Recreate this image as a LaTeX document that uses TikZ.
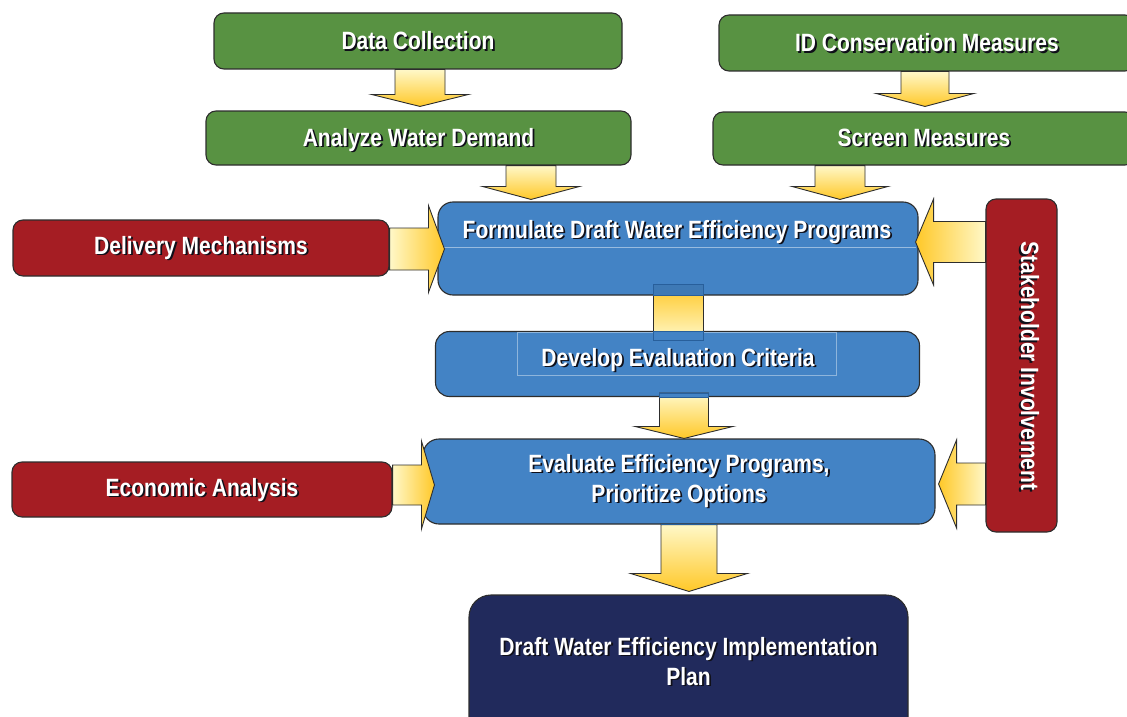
\documentclass[tikz,border=0pt]{standalone}
\usepackage{fontspec}
\newfontfamily\lblfont{Liberation Sans}[FakeStretch=0.84]
\usetikzlibrary{calc}
\definecolor{gr}{RGB}{88,146,66}
\definecolor{rd}{RGB}{165,29,35}
\definecolor{bl}{RGB}{67,131,197}
\definecolor{nv}{RGB}{33,42,92}
\definecolor{ol}{RGB}{45,45,45}
\definecolor{ydk}{RGB}{255,200,40}
\definecolor{ylt}{RGB}{255,248,200}
\definecolor{shc}{RGB}{15,15,25}
\definecolor{bdk}{RGB}{40,95,155}
\newcommand\sh[1]{\leavevmode\rlap{\raisebox{-1.8pt}{\hspace{1.8pt}\textcolor{shc}{#1}}}#1}
% vertical block arrow: #1 from, #2 tip, #3 x, #4 half shaft, #5 half head, #6 head length, #7 style
\newcommand\varr[7]{%
  \path[#7] let \p1=(#1), \p2=(#2) in
    ({#3pt-#4pt},\y1) -- ({#3pt+#4pt},\y1) -- ({#3pt+#4pt},{\y2+#6pt}) --
    ({#3pt+#5pt},{\y2+#6pt}) -- ({#3pt},\y2) -- ({#3pt-#5pt},{\y2+#6pt}) --
    ({#3pt-#4pt},{\y2+#6pt}) -- cycle;}
% horizontal block arrow: #1 from, #2 tip, #3 y (image), #4 half shaft, #5 half head, #6 signed head length, #7 style
\newcommand\harr[7]{%
  \path[#7] let \p1=(#1), \p2=(#2) in
    (\x1,{-#3pt+#4pt}) -- ({\x2-(#6pt)},{-#3pt+#4pt}) -- ({\x2-(#6pt)},{-#3pt+#5pt}) --
    (\x2,{-#3pt}) -- ({\x2-(#6pt)},{-#3pt-#5pt}) -- ({\x2-(#6pt)},{-#3pt-#4pt}) --
    (\x1,{-#3pt-#4pt}) -- cycle;}
\tikzset{
  x=1pt, y=-1pt,
  box/.style={draw=ol, line width=1.1pt, rounded corners=10pt, inner sep=0pt,
    text=white, font=\lblfont\bfseries\fontsize{25pt}{30pt}\selectfont},
  one/.style={text height=18pt, text depth=0pt},
  grn/.style={box, one, fill=gr},
  red/.style={box, one, fill=rd},
  blu/.style={box, fill=bl, rounded corners=15pt},
  nav/.style={box, fill=nv, rounded corners=22pt},
  txt/.style={inner sep=0pt, text=white, align=center,
    font=\lblfont\bfseries\fontsize{25pt}{30pt}\selectfont},
  arrbase/.style={draw=ol, line width=0.9pt, line join=miter},
  dn/.style={arrbase, top color=ylt, bottom color=ydk},
  rt/.style={arrbase, left color=ylt, right color=ydk},
  lf/.style={arrbase, left color=ydk, right color=ylt},
  up/.style={arrbase, top color=ydk, bottom color=ylt},
  ovl/.style={fill=bl!92!black, draw=bdk, line width=0.8pt},
}
\begin{document}
\begin{tikzpicture}
\useasboundingbox (0,0) rectangle (1127,717);
\clip (0,0) rectangle (1127,717);
% green boxes
\node[grn, minimum width=408, minimum height=56] (dc) at (418,41) {\sh{Data Collection}};
\node[grn, minimum width=416, minimum height=56] (idc) at (927,43) {\sh{ID Conservation Measures}};
\node[grn, text depth=2pt, minimum width=425, minimum height=54] (aw) at (418.5,138) {\sh{Analyze Water Demand}};
\node[grn, text depth=3pt, minimum width=422, minimum height=53] (sm) at (924,138.5) {\sh{Screen Measures}};
% red boxes
\node[red, text depth=6pt, minimum width=376, minimum height=56] (dm) at (201,248) {\sh{Delivery Mechanisms}};
\node[red, text depth=5pt, minimum width=380, minimum height=55] (ea) at (202,489.5) {\sh{Economic Analysis}};
\node[box, fill=rd, minimum width=71, minimum height=333] (sh) at (1021.5,365.5) {};
\node[txt, one, rotate=-90] (shT) at (1030,366) {\sh{Stakeholder Involvement}};
% blue boxes
\node[blu, minimum width=480, minimum height=93] (fd) at (678,248.5) {};
\draw[bl!55!white, line width=0.6pt] (440,247) -- (916,247);
\node[txt, one] (fdT) at (677,229) {\sh{Formulate Draft Water Efficiency Programs}};
\node[blu, rounded corners=14pt, minimum width=484, minimum height=65] (dv) at (677.5,364) {};
\draw[bl!60!white, line width=0.5pt] (517,332) rectangle (836,375);
\node[txt, one] (dvT) at (678,357) {\sh{Develop Evaluation Criteria}};
\node[blu, rounded corners=16pt, minimum width=512, minimum height=85, align=center] (ev) at (679,481.5)
  {\sh{Evaluate Efficiency Programs,}\\\sh{Prioritize Options}};
% navy box
\node[nav, minimum width=439, minimum height=146] (dw) at (688.5,668) {};
\node[txt] (dwT) at (688.5,662) {\sh{Draft Water Efficiency Implementation}\\\sh{Plan}};
% vertical arrows
\varr{dc.south}{$(aw.north)+(0,-4)$}{420}{25}{48.5}{12}{dn}
\varr{idc.south}{$(sm.north)+(0,-5)$}{925}{24}{49}{13}{dn}
\varr{aw.south}{$(fd.north)+(0,-2)$}{531}{25}{48.5}{13}{dn}
\varr{sm.south}{$(fd.north)+(0,-2)$}{840}{25}{48}{13}{dn}
\varr{$(dv.south)+(0,-4)$}{ev.north}{684}{24.5}{49}{12}{dn}
\varr{ev.south}{$(dw.north)+(0,-3)$}{689}{28}{58.5}{18}{dn}
% connecting block between formulate and develop
\path[up] let \p1=(fd.south), \p2=(dv.north) in (653pt,{\y1+11pt}) rectangle (703pt,{\y2-9pt});
\path[ovl] let \p1=(fd.south) in (653pt,{\y1+11pt}) rectangle (703pt,\y1);
\path[ovl, fill=bl] let \p2=(dv.north) in (653pt,\y2) rectangle (703pt,{\y2-9pt});
\path[ovl, fill=bl] let \p1=(dv.south) in (659.5pt,{\y1+4pt}) rectangle (708.5pt,\y1);
\draw[bdk, line width=1pt] (661,524) -- (717,524);
% horizontal arrows
\harr{dm.east}{$(fd.west)+(7,0)$}{249}{21}{43.5}{16}{rt}
\harr{sh.west}{$(fd.east)+(-3,0)$}{242}{20.5}{43}{-18}{lf}
\harr{ea.east}{$(ev.west)+(12,0)$}{485}{20}{44}{13}{rt}
\harr{sh.west}{$(ev.east)+(3,0)$}{484}{21}{44}{-18}{lf}
\end{tikzpicture}
\end{document}
